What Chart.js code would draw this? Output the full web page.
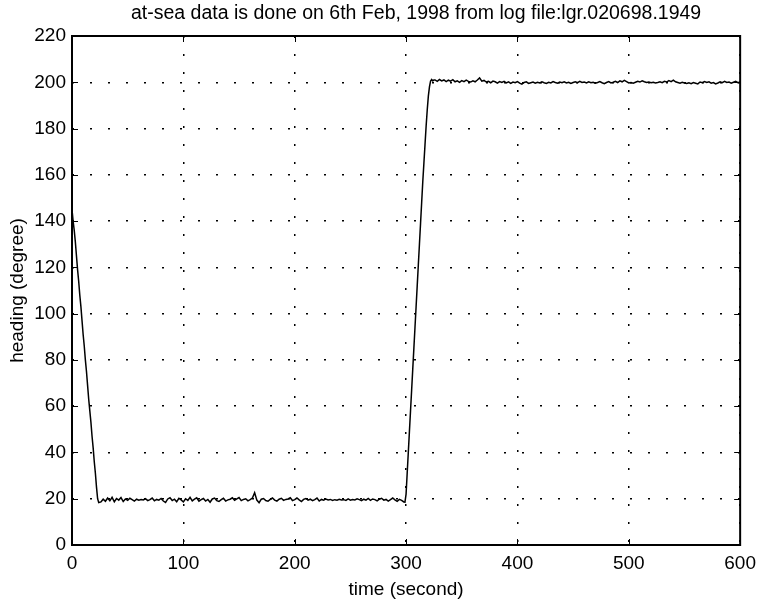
<!DOCTYPE html>
<html><head><meta charset="utf-8">
<script src="https://cdn.jsdelivr.net/npm/chart.js@4"></script>
<style>html,body{margin:0;padding:0;background:#fff}#wrap{width:763px;height:604px}</style>
</head><body><div id="wrap"><canvas id="c" width="763" height="604"></canvas></div>
<script>
const chartTitle = "at-sea data is done on 6th Feb, 1998 from log file:lgr.020698.1949";
const xTitle = "time (second)";
const yTitle = "heading (degree)";
const xTicks = [0, 100, 200, 300, 400, 500, 600];
const yTicks = [0, 20, 40, 60, 80, 100, 120, 140, 160, 180, 200, 220];

const times = [
0,1,2,3,4,5,6,7,8,9,10,11,12,13,14,15,16,17,18,19,20,21,22,23,24,
26,28,30,32,34,36,38,40,42,44,46,48,50,52,54,56,58,60,62,64,66,68,70,72,74,76,78,80,82,84,86,88,90,92,94,96,98,
100,102,104,106,108,110,112,114,116,118,120,122,124,126,128,130,132,134,136,138,140,142,144,146,148,150,152,154,156,158,160,162,164,166,168,170,172,174,176,178,180,182,184,186,188,190,192,194,196,198,
200,202,204,206,208,210,212,214,216,218,220,222,224,226,228,230,232,234,236,238,240,242,244,246,248,250,252,254,256,258,260,262,264,266,268,270,272,274,276,278,280,282,284,286,288,290,292,294,296,298,
299,300,301,302,303,304,305,306,307,308,309,310,311,312,313,314,315,316,317,318,319,320,321,322,323,324,325,
326,328,330,332,334,336,338,340,342,344,346,348,350,352,354,356,358,360,362,364,366,368,370,372,374,376,378,380,382,384,386,388,390,392,394,396,398,
400,402,404,406,408,410,412,414,416,418,420,422,424,426,428,430,432,434,436,438,440,442,444,446,448,450,452,454,456,458,460,462,464,466,468,470,472,474,476,478,480,482,484,486,488,490,492,494,496,498,
500,502,504,506,508,510,512,514,516,518,520,522,524,526,528,530,532,534,536,538,540,542,544,546,548,550,552,554,556,558,560,562,564,566,568,570,572,574,576,578,580,582,584,586,588,590,592,594,596,598,600
];

const heading = [
145,140,136,131,125,119,114,108,103,97,91,86,80,75,69,63,58,53,47,42,36,31,25,20,18.3,
18.6,19.8,18.9,20.3,19.1,20.6,18.7,20.1,19.4,20.5,18.8,19.9,19.3,20.2,19.6,19.0,19.8,19.4,19.7,19.5,20.0,19.2,19.6,20.3,19.1,19.7,19.4,20.1,19.0,18.4,19.9,20.4,19.2,19.8,18.7,20.2,19.5,
18.6,20.0,19.3,20.6,19.1,19.8,20.4,18.9,19.6,20.1,19.0,19.7,18.5,19.9,20.3,19.2,18.8,19.6,20.2,19.0,19.5,19.8,20.4,19.3,19.9,20.5,19.2,19.7,20.0,19.1,19.6,20.3,22.6,19.4,18.3,19.8,20.1,19.2,18.9,19.7,20.3,19.4,19.0,19.8,20.2,19.3,19.7,19.9,20.4,19.2,
19.6,20.3,19.5,18.8,19.7,20.1,19.4,19.8,19.2,19.6,20.3,19.0,19.7,19.4,19.9,19.5,19.7,19.3,19.6,19.4,19.8,19.5,19.6,19.3,19.9,19.4,19.7,19.5,20.0,19.6,19.2,19.8,19.4,20.1,19.3,19.9,19.6,19.1,19.8,20.2,19.4,19.7,19.0,19.6,20.3,19.5,18.9,19.7,19.3,18.6,
18.5,22,31,40,49,58,67,76,85,94,103,112,121,130,139,148,157,165,173,181,188,194,198,200.5,201.2,200.6,201.0,
201.0,200.4,201.2,200.6,201.0,200.3,200.9,200.5,201.1,200.2,200.6,200.0,200.7,200.3,200.9,200.4,200.1,200.6,200.2,201.0,201.9,200.5,200.8,200.1,200.4,199.8,200.5,200.2,199.6,200.3,199.9,200.4,199.7,200.2,199.5,200.1,199.8,
200.3,199.6,199.2,199.9,200.2,199.5,199.8,200.1,199.6,200.0,199.7,200.2,199.8,199.5,200.0,199.7,200.3,199.9,199.6,200.1,199.8,200.2,199.7,200.0,199.5,199.9,200.2,199.8,200.4,199.9,200.1,199.7,200.2,199.8,200.0,199.6,199.9,200.3,199.8,199.4,199.9,200.3,199.7,200.0,200.4,199.9,200.6,200.2,200.8,200.3,
199.7,199.9,199.6,200.0,200.4,200.1,200.6,200.2,199.9,200.1,199.8,200.0,199.7,199.9,200.2,199.8,200.4,200.1,200.7,200.3,200.9,200.2,199.9,199.6,200.0,199.7,199.5,199.8,199.4,199.9,199.6,199.3,200.1,199.8,200.3,199.9,200.2,199.6,199.9,199.3,199.7,200.2,199.8,200.4,199.9,200.1,199.6,200.0,200.4,199.8,200.1
];

const points = times.map((t, i) => ({x: t, y: heading[i]}));
const FONT = '"Liberation Sans", Arial, sans-serif';

const matlabAxes = {
  id: 'matlabAxes',
  afterDraw(chart) {
    const {ctx, chartArea: a, scales: {x, y}} = chart;
    ctx.save();
    ctx.strokeStyle = '#000';
    ctx.lineWidth = 1;
    const L = 6;
    ctx.beginPath();
    xTicks.forEach(v => {
      const px = Math.round(x.getPixelForValue(v)) + 0.5;
      ctx.moveTo(px, a.bottom); ctx.lineTo(px, a.bottom - L);
      ctx.moveTo(px, a.top); ctx.lineTo(px, a.top + L);
    });
    yTicks.forEach(v => {
      const py = Math.round(y.getPixelForValue(v)) + 0.5;
      ctx.moveTo(a.left, py); ctx.lineTo(a.left + L, py);
      ctx.moveTo(a.right, py); ctx.lineTo(a.right - L, py);
    });
    ctx.stroke();
    ctx.lineWidth = 2;
    ctx.strokeRect(a.left, a.top, a.right - a.left, a.bottom - a.top);
    ctx.fillStyle = '#000';
    ctx.font = '19.5px ' + FONT;
    ctx.textAlign = 'center';
    ctx.textBaseline = 'middle';
    ctx.fillText(chartTitle, (a.left + a.right) / 2 + 10, 14);
    ctx.restore();
  }
};

new Chart(document.getElementById('c').getContext('2d'), {
  type: 'line',
  data: { datasets: [{ data: points, borderColor: '#000', borderWidth: 1.5, pointRadius: 0, tension: 0, fill: false }] },
  options: {
    responsive: false, animation: false, devicePixelRatio: 1,
    layout: { padding: { top: 36, right: 22, left: 0, bottom: 0 } },
    plugins: { legend: { display: false }, tooltip: { enabled: false }, title: { display: false } },
    scales: {
      x: {
        type: 'linear', min: 0, max: 600,
        afterBuildTicks: s => { s.ticks = xTicks.map(v => ({value: v})); },
        afterFit: s => { s.height = 59; },
        grid: { color: '#000', lineWidth: 1.5, drawTicks: false },
        border: { display: false, dash: [2, 16] },
        ticks: { color: '#000', font: { size: 19, family: FONT }, padding: 7, maxRotation: 0 },
        title: { display: true, text: xTitle, color: '#000', font: { size: 19, family: FONT }, padding: { top: 0, bottom: 3 } }
      },
      y: {
        min: 0, max: 220,
        afterBuildTicks: s => { s.ticks = yTicks.map(v => ({value: v})); },
        afterFit: s => { s.width = 72; },
        grid: { color: '#000', lineWidth: 1.5, drawTicks: false },
        border: { display: false, dash: [2, 16] },
        ticks: { color: '#000', font: { size: 19, family: FONT }, padding: 6 },
        title: { display: true, text: yTitle, color: '#000', font: { size: 19, family: FONT }, padding: { top: 6, bottom: 0 } }
      }
    }
  },
  plugins: [matlabAxes]
});
</script>
</body></html>
